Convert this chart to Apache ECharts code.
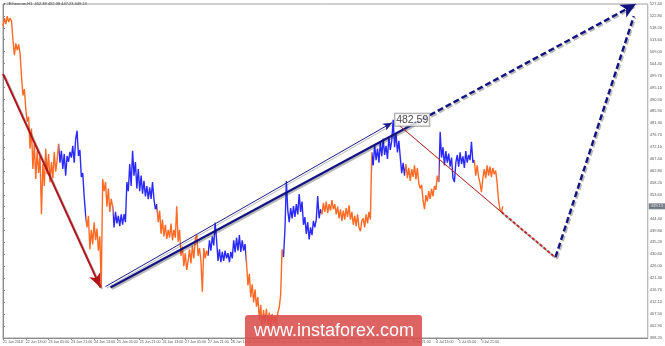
<!DOCTYPE html>
<html><head><meta charset="utf-8">
<script src="https://cdn.jsdelivr.net/npm/echarts@6/dist/echarts.min.js"></script>
<style>html,body{margin:0;padding:0;background:#fff}#c{width:665px;height:346px}</style>
</head><body><div id="c"></div>
<script>
// hourly prices (index = hours since 21 Jun 21:00)
const prices = [
518.8,521.9,519.6,522.7,520.4,521.9,520.8,513.4,507.6,512.2,509.5,511.8,508.3,499.4,492.0,494.5,486.9,481.9,483.8,471.4,
479.2,463.6,473.3,459.7,470.6,462.0,468.6,446.1,465.5,457.0,471.4,461.6,469.4,458.5,466.3,460.0,470.2,462.5,467.0,
473.3,466.0,470.6,463.6,469.4,461.0,468.6,466.3,470.2,468.0,472.5,466.0,475.0,478.4,468.6,471.0,460.5,462.0,453.0,446.0,
441.0,445.5,432.5,440.0,434.4,443.0,436.0,440.5,432.0,437.5,417.7,459.7,455.0,458.5,449.0,456.0,447.0,452.0,
449.0,441.0,447.0,442.5,445.5,441.5,446.0,442.0,446.1,443.0,458.5,455.0,465.5,457.0,470.6,461.0,466.3,456.0,463.6,455.0,
461.0,454.0,459.0,453.0,457.0,451.9,456.5,452.0,458.5,452.0,448.0,
450.0,443.0,447.5,438.5,444.0,437.5,442.0,436.5,440.0,437.0,442.5,436.0,440.0,437.0,449.2,435.5,440.0,430.0,433.6,426.0,
431.0,424.5,428.0,432.5,427.0,434.0,429.0,436.0,438.3,430.0,433.0,428.0,416.1,433.0,429.0,432.0,
430.0,436.0,432.0,437.5,434.0,442.9,436.0,428.0,432.5,427.5,431.5,428.0,432.0,429.0,431.0,427.5,431.5,429.0,436.0,431.3,
437.0,432.0,438.0,431.5,436.0,432.0,434.5,
427.4,418.5,423.0,414.0,419.0,412.0,417.0,410.3,414.0,405.0,411.0,402.5,409.0,404.0,409.5,403.0,408.0,402.5,407.5,404.0,
406.5,403.0,408.0,410.0,415.0,432.5,
429.5,440.2,458.9,447.5,443.0,448.5,444.5,449.2,445.0,450.0,446.0,453.9,447.0,451.0,442.0,445.0,438.5,443.0,436.3,441.0,
438.0,443.5,441.0,444.0,453.1,444.5,
448.0,446.0,450.5,447.0,451.0,446.5,450.0,447.5,451.5,448.0,450.0,446.0,449.0,444.5,448.0,443.5,447.5,444.0,448.5,445.0,
449.5,444.0,447.0,442.0,445.5,441.5,446.0,441.0,439.5,443.5,444.5,441.0,446.0,442.5,447.0,444.0,
470.0,465.0,473.0,467.0,471.5,466.0,474.0,468.5,475.3,469.0,472.5,467.5,476.0,471.0,474.5,482.59,472.0,477.5,470.0,474.5,
468.0,462.0,466.0,461.0,
465.5,460.0,464.0,459.0,463.5,460.5,465.0,459.5,464.0,458.0,456.0,457.5,451.5,448.0,453.5,451.0,455.0,452.0,456.0,453.0,
457.0,455.5,461.0,458.5,
478.0,468.0,472.0,465.0,470.5,466.0,469.5,464.5,468.0,460.0,458.5,466.0,469.0,464.5,470.0,465.5,468.5,464.0,470.5,466.0,
469.0,467.0,474.1,466.0,
467.0,461.0,465.0,460.5,458.0,454.6,460.0,463.5,460.0,465.0,461.0,464.5,460.5,464.0,461.5,463.0,458.0,451.5,448.0,446.9,449.13
];
// hours where the bar colouring switches (orange first, then alternating)
const trendBreaks = [39, 58.5, 77, 108, 144, 171, 196.5, 223, 259, 282.5, 306.5, 331];
const xLabels = ['21 Jun 2018','22 Jun 13:00','23 Jun 05:00','23 Jun 21:00','24 Jun 13:00','25 Jun 05:00','25 Jun 21:00',
 '26 Jun 13:00','27 Jun 05:00','27 Jun 21:00','28 Jun 13:00','29 Jun 05:00','29 Jun 21:00','30 Jun 13:00','1 Jul 05:00',
 '1 Jul 21:00','2 Jul 13:00','3 Jul 05:00','3 Jul 21:00','4 Jul 13:00','5 Jul 05:00','5 Jul 21:00'];
const yLabels = ['527.40','522.80','518.20','513.60','509.00','504.40','499.70','495.10','490.50','485.90','481.30','476.70',
 '472.10','467.40','462.80','458.20','453.60','449.00','444.40','439.80','435.20','430.60','426.00','421.30','416.70',
 '412.10','407.50','402.90','398.20'];
// drawn objects, [hour, price]
const redDownArrow = [[0, 500.4], [68.5, 417.7]];
const channelThin = [[72, 418.1], [273.2, 481.5]];
const channelMain = [[75.5, 417.7], [288.6, 481.1]];
const channelProj = [[288.6, 481.1], [444.5, 527.4]];
const waveProj = [[388, 429.5], [443, 522.7]];
const redTrend = [[276, 481.5], [350.1, 446.9]];
const redProj = [[350.1, 446.9], [388, 429.3]];
const peakPoint = [274, 482.59];
const lastPrice = 449.13;
const X_MAX = 452.8;

const ORANGE = '#ff6a24', BLUE = '#2a2aff';
const pieces = [];
for (let i = 0; i <= trendBreaks.length; i++) {
  const p = { color: i % 2 === 0 ? ORANGE : BLUE };
  if (i > 0) p.gte = trendBreaks[i - 1];
  if (i < trendBreaks.length) p.lt = trendBreaks[i];
  pieces.push(p);
}
const shadow = { shadowColor: 'rgba(0,0,0,0.28)', shadowOffsetX: 1.5, shadowOffsetY: 1.5, shadowBlur: 0 };
function seg(pts, style, endSym, endSize) {
  return [
    { coord: pts[0], symbol: 'none', lineStyle: Object.assign({}, shadow, style) },
    { coord: pts[1], symbol: endSym || 'none', symbolSize: endSize || 0 }
  ];
}
const chart = echarts.init(document.getElementById('c'));
chart.setOption({
  animation: false,
  grid: { left: 2, right: 15, top: 4, bottom: 8, show: true, borderColor: '#a0a0a0', borderWidth: 1 },
  xAxis: {
    type: 'value', min: 0, max: X_MAX,
    axisLine: { show: true, lineStyle: { color: '#8a8a8a' } },
    axisTick: { show: true, length: 2, customValues: xLabels.map((_, i) => i * 16), lineStyle: { color: '#8a8a8a' } },
    axisLabel: { customValues: xLabels.map((_, i) => i * 16), formatter: v => xLabels[Math.round(v / 16)] || '',
      align: 'left', fontSize: 3.6, margin: 2, color: '#555', fontFamily: 'Liberation Sans' },
    splitLine: { show: false }
  },
  yAxis: {
    type: 'value', position: 'right', min: 398.2, max: 527.4,
    axisLine: { show: true, lineStyle: { color: '#8a8a8a' } },
    axisTick: { show: true, length: 2, inside: false, customValues: yLabels.map(Number), lineStyle: { color: '#8a8a8a' } },
    axisLabel: { customValues: yLabels.map(Number), formatter: v => v.toFixed(2), fontSize: 4, margin: 2, color: '#555',
      fontFamily: 'Liberation Sans' },
    splitLine: { show: false }
  },
  visualMap: { type: 'piecewise', show: false, dimension: 0, seriesIndex: 0, pieces: pieces },
  series: [
    {
      type: 'line', data: prices.map((p, i) => [i, p]), symbol: 'none', lineStyle: { width: 1.4 }, z: 3
    },
    {
      type: 'line', data: [], z: 4,
      markLine: {
        silent: true, symbol: ['none', 'none'], label: { show: false }, animation: false,
        data: [
          seg(redDownArrow, { color: '#b3141c', width: 2, type: 'solid' }, 'arrow', [9, 14]),
          seg(channelThin, { color: '#1a1a8a', width: 1, type: 'solid' }, 'arrow', [6, 9]),
          seg(channelMain, { color: '#121280', width: 2.2, type: 'solid' }),
          seg(channelProj, { color: '#121280', width: 2.4, type: [6, 3] }, 'arrow', [11, 15]),
          seg(waveProj, { color: '#121280', width: 2.4, type: [6, 3] }),
          seg(redTrend, { color: '#c0282a', width: 1, type: 'solid' }),
          seg(redProj, { color: '#c0282a', width: 2, type: [3, 2] })
        ]
      }
    },
    {
      type: 'scatter', data: [[X_MAX, lastPrice]], symbolSize: 0, z: 5, clip: false,
      label: { show: true, position: 'right', distance: 1, formatter: p => p.value[1].toFixed(2), fontSize: 4,
        color: '#fff', backgroundColor: '#596270', padding: [1, 2, 1, 2], fontFamily: 'Liberation Sans' }
    },
    {
      type: 'scatter', data: [peakPoint], symbolSize: 0, z: 6,
      label: { show: true, position: 'right', distance: 2, formatter: p => p.value[1].toFixed(2), fontSize: 10.5,
        color: '#111', backgroundColor: '#fff', borderColor: '#8a8a8a', borderWidth: 1, padding: [1, 1, 0, 1],
        fontFamily: 'Liberation Sans' }
    }
  ],
  graphic: [
    { type: 'text', left: 4, top: 2, style: { text: '▪ #Ethereum,H1  452.38 452.38 447.23 449.13', fontSize: 4,
      fill: '#444', fontFamily: 'Liberation Sans' } },
    { type: 'rect', shape: { x: 245, y: 315, width: 177, height: 32, r: [3, 3, 0, 0] },
      style: { fill: 'rgba(218,78,78,0.88)' }, z: 100 },
    { type: 'text', x: 254, y: 331, style: { text: 'www.instaforex.com', fontSize: 18, fill: '#fff',
      fontFamily: 'Liberation Sans', textVerticalAlign: 'middle' }, z: 101 }
  ]
});
</script></body></html>
